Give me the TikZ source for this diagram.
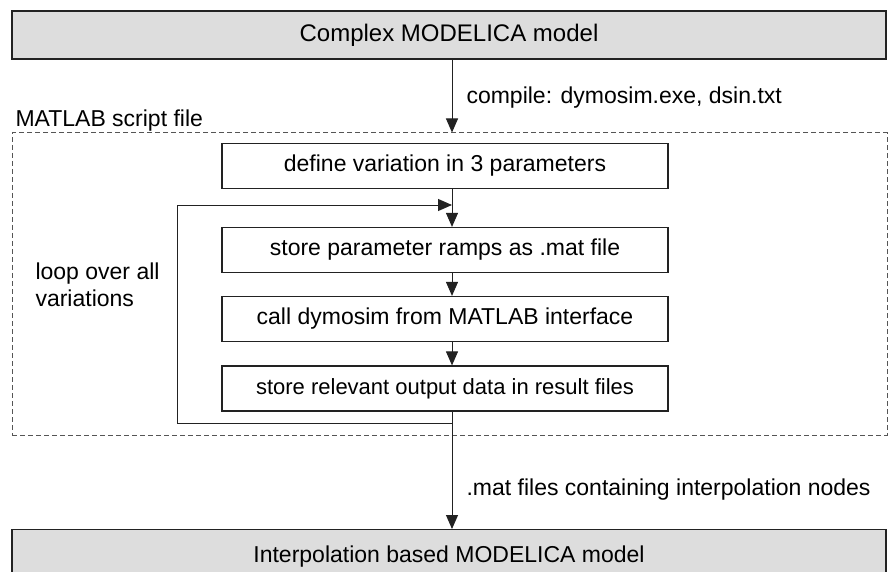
\documentclass[tikz,border=0pt]{standalone}
\usepackage{fontspec}
\setmainfont{Liberation Sans}
\usetikzlibrary{arrows.meta}
\definecolor{boxfill}{HTML}{DDDDDD}
\definecolor{edge}{HTML}{222222}
\definecolor{dashc}{HTML}{555555}
\tikzset{
  x=1pt, y=-1pt,
  txt/.style={font=\fontsize{23}{27}\selectfont, text=black},
  bigbox/.style={draw=edge, line width=1.2pt, fill=boxfill, minimum width=874pt, minimum height=48pt, inner sep=0pt, txt},
  stepbox/.style={draw=edge, line width=1.2pt, fill=white, minimum width=446pt, minimum height=45pt, inner sep=0pt, txt},
  frame/.style={draw=dashc, line width=1pt, dash pattern=on 5pt off 3pt, minimum width=875pt, minimum height=302pt, inner sep=0pt},
  arr/.style={draw=edge, line width=1pt, -{Triangle[length=14pt,width=12pt]}},
}
\begin{document}
\begin{tikzpicture}
\useasboundingbox (0,0) rectangle (888,572);
\clip (0,0) rectangle (888,572);
\node[frame] (script) at (449.5,284) {};
\node[bigbox, font=\fontsize{24}{28}\selectfont] (top) at (449,35) {Complex MODELICA model};
\node[stepbox] (s1) at (445,166) {define variation in 3 parameters};
\node[stepbox] (s2) at (445,250) {store parameter ramps as .mat file};
\node[stepbox] (s3) at (445,319) {call dymosim from MATLAB interface};
\node[stepbox, font=\fontsize{22}{26}\selectfont] (s4) at (445,388.5) {store relevant output data in result files};
\node[bigbox, minimum height=54pt, anchor=north] (bot) at (449,529) {Interpolation based MODELICA model};
\node[txt, anchor=west] (lblc) at (463,98) {compile: dymosim.exe, dsin.txt};
\node[txt, anchor=west] (lblm) at (12,121) {MATLAB script file};
\node[txt, anchor=west, align=left] (lbll) at (32,285) {loop over all\\variations};
\node[txt, anchor=west] (lbli) at (463,490) {.mat files containing interpolation nodes};
\coordinate (ax) at (452,0);
\coordinate (j1) at (452,423);
\coordinate (c1) at (177,423);
\coordinate (c2) at (177,205);
\coordinate (j2) at (452,205);
\draw[arr] (top.south -| ax) -- (script.north -| ax);
\draw[arr] (s1.south -| ax) -- (s2.north -| ax);
\draw[arr] (s2.south -| ax) -- (s3.north -| ax);
\draw[arr] (s3.south -| ax) -- (s4.north -| ax);
\draw[arr] (s4.south -| ax) -- (bot.north -| ax);
\draw[arr] (j1) -- (c1) -- (c2) -- (j2);
\end{tikzpicture}
\end{document}
